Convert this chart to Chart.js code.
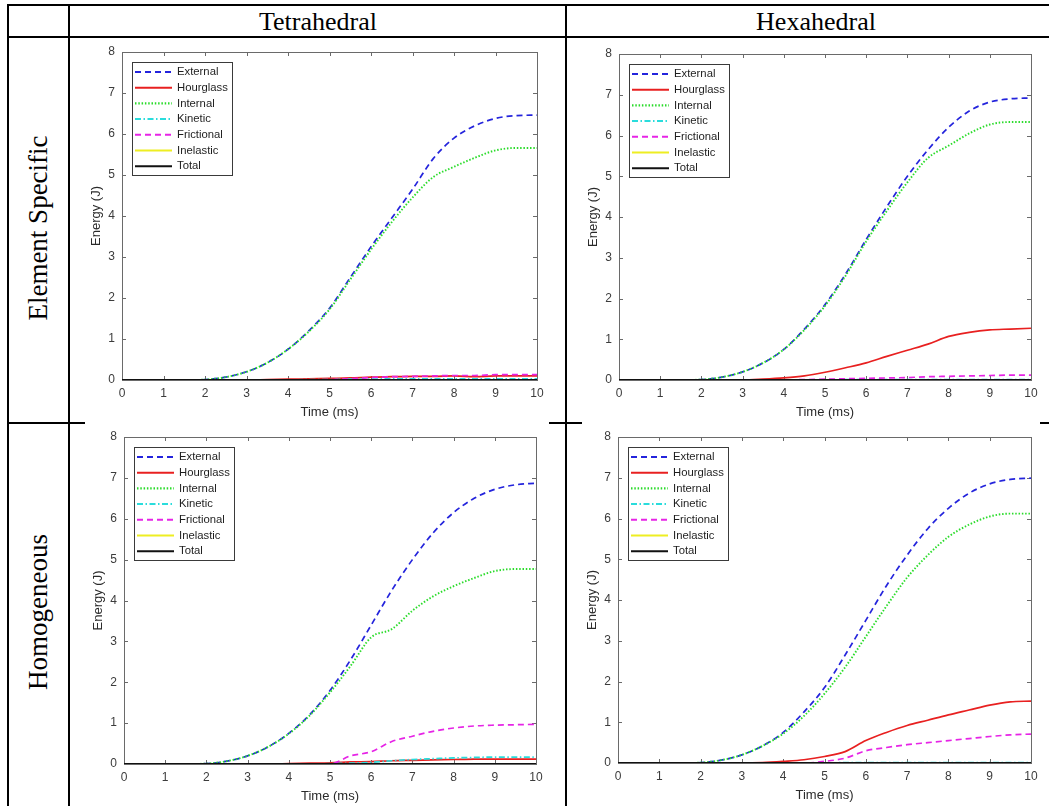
<!DOCTYPE html>
<html>
<head>
<meta charset="utf-8">
<script src="https://cdn.jsdelivr.net/npm/chart.js@4.4.1/dist/chart.umd.min.js"></script>
<style>
  body { margin: 0; background: #fff; width: 1049px; height: 806px; position: relative; overflow: hidden; }
  .ln { position: absolute; background: #000; }
  .hd { position: absolute; font-family: "Liberation Serif", "Times New Roman", serif; font-size: 26px; color: #000;
        transform: translate(-50%, -50%); white-space: nowrap; }
  .rl { position: absolute; font-family: "Liberation Serif", "Times New Roman", serif; font-size: 27px; color: #000;
        transform: translate(-50%, -50%) rotate(-90deg); white-space: nowrap; }
  canvas { position: absolute; }
</style>
</head>
<body>
<!-- table grid -->
<div class="ln" style="left:7px;top:4px;width:1042px;height:2px"></div>
<div class="ln" style="left:7px;top:36px;width:1042px;height:2px"></div>
<div class="ln" style="left:7px;top:4px;width:2px;height:802px"></div>
<div class="ln" style="left:68px;top:4px;width:2px;height:802px"></div>
<div class="ln" style="left:565px;top:4px;width:2px;height:802px"></div>
<div class="ln" style="left:7px;top:422px;width:78px;height:2px"></div>
<div class="ln" style="left:549px;top:422px;width:33px;height:2px"></div>
<div class="ln" style="left:1040px;top:422px;width:9px;height:2px"></div>

<div class="hd" style="left:318px;top:22px">Tetrahedral</div>
<div class="hd" style="left:816px;top:22px">Hexahedral</div>
<div class="rl" style="left:38px;top:228px">Element Specific</div>
<div class="rl" style="left:38px;top:612px">Homogeneous</div>

<canvas id="tetES"></canvas>
<canvas id="hexES"></canvas>
<canvas id="tetH"></canvas>
<canvas id="hexH"></canvas>

<script>
// time axis (ms) and energies (J)
const time = [0, 0.5, 1, 1.5, 2, 2.5, 3, 3.5, 4, 4.5, 5, 5.5, 6, 6.5, 7, 7.5, 8, 8.5, 9, 9.5, 10];
const zero = [0, 0, 0, 0, 0, 0, 0, 0, 0, 0, 0, 0, 0, 0, 0, 0, 0, 0, 0, 0, 0];
const seriesNames = ['External', 'Hourglass', 'Internal', 'Kinetic', 'Frictional', 'Inelastic', 'Total'];

// Tetrahedral / Element Specific
const tetES_ext  = [0, 0, 0, 0, 0.01, 0.07, 0.2, 0.42, 0.75, 1.2, 1.75, 2.5, 3.25, 3.95, 4.65, 5.4, 5.9, 6.2, 6.38, 6.45, 6.46];
const tetES_hour = [0, 0, 0, 0, 0, 0, 0, 0.01, 0.02, 0.03, 0.04, 0.05, 0.07, 0.08, 0.09, 0.09, 0.1, 0.08, 0.1, 0.1, 0.1];
const tetES_int  = [0, 0, 0, 0, 0.01, 0.07, 0.2, 0.42, 0.75, 1.18, 1.72, 2.45, 3.18, 3.85, 4.45, 4.95, 5.2, 5.42, 5.6, 5.66, 5.66];
const tetES_kin  = [0, 0, 0, 0, 0, 0, 0, 0, 0, 0.01, 0.01, 0.02, 0.02, 0.03, 0.03, 0.03, 0.03, 0.03, 0.03, 0.03, 0.03];
const tetES_fric = [0, 0, 0, 0, 0, 0, 0, 0, 0, 0, 0.01, 0.03, 0.06, 0.08, 0.09, 0.1, 0.11, 0.11, 0.13, 0.13, 0.13];

// Hexahedral / Element Specific
const hexES_ext  = [0, 0, 0, 0, 0.01, 0.07, 0.2, 0.42, 0.75, 1.25, 1.85, 2.6, 3.45, 4.25, 5.0, 5.65, 6.2, 6.6, 6.82, 6.9, 6.92];
const hexES_hour = [0, 0, 0, 0, 0, 0, 0, 0.02, 0.05, 0.1, 0.19, 0.3, 0.42, 0.58, 0.73, 0.88, 1.07, 1.17, 1.23, 1.25, 1.27];
const hexES_int  = [0, 0, 0, 0, 0.01, 0.07, 0.2, 0.42, 0.75, 1.23, 1.82, 2.56, 3.4, 4.15, 4.85, 5.45, 5.75, 6.05, 6.27, 6.33, 6.33];
const hexES_kin  = [0, 0, 0, 0, 0, 0, 0, 0, 0, 0, 0, 0.01, 0.01, 0.01, 0.01, 0.01, 0.01, 0.01, 0.01, 0.01, 0.01];
const hexES_fric = [0, 0, 0, 0, 0, 0, 0, 0, 0, 0.01, 0.02, 0.03, 0.04, 0.05, 0.06, 0.08, 0.09, 0.1, 0.11, 0.12, 0.12];

// Tetrahedral / Homogeneous
const tetH_ext  = [0, 0, 0, 0, 0.01, 0.07, 0.2, 0.42, 0.75, 1.2, 1.8, 2.55, 3.4, 4.25, 5.0, 5.65, 6.15, 6.5, 6.72, 6.83, 6.87];
const tetH_hour = [0, 0, 0, 0, 0, 0, 0, 0, 0.01, 0.02, 0.03, 0.05, 0.06, 0.08, 0.09, 0.1, 0.11, 0.12, 0.12, 0.12, 0.12];
const tetH_int  = [0, 0, 0, 0, 0.01, 0.07, 0.2, 0.42, 0.74, 1.18, 1.75, 2.4, 3.1, 3.3, 3.75, 4.1, 4.35, 4.55, 4.72, 4.77, 4.77];
const tetH_kin  = [0, 0, 0, 0, 0, 0, 0, 0, 0, 0, 0.01, 0.02, 0.04, 0.08, 0.11, 0.13, 0.15, 0.16, 0.17, 0.17, 0.17];
const tetH_fric = [0, 0, 0, 0, 0, 0, 0, 0, 0, 0, 0, 0.2, 0.3, 0.55, 0.68, 0.8, 0.88, 0.93, 0.95, 0.96, 0.97];

// Hexahedral / Homogeneous
const hexH_ext  = [0, 0, 0, 0, 0.01, 0.07, 0.2, 0.42, 0.75, 1.25, 1.85, 2.65, 3.5, 4.35, 5.1, 5.75, 6.25, 6.62, 6.85, 6.96, 6.99];
const hexH_hour = [0, 0, 0, 0, 0, 0, 0, 0.01, 0.04, 0.08, 0.16, 0.28, 0.55, 0.75, 0.92, 1.05, 1.18, 1.3, 1.42, 1.5, 1.52];
const hexH_int  = [0, 0, 0, 0, 0.01, 0.07, 0.2, 0.42, 0.72, 1.15, 1.7, 2.35, 3.1, 3.85, 4.55, 5.1, 5.55, 5.85, 6.05, 6.12, 6.12];
const hexH_kin  = [0, 0, 0, 0, 0, 0, 0, 0, 0, 0, 0, 0.01, 0.01, 0.01, 0.01, 0.01, 0.01, 0.01, 0.01, 0.01, 0.01];
const hexH_fric = [0, 0, 0, 0, 0, 0, 0, 0, 0, 0, 0.04, 0.12, 0.3, 0.38, 0.45, 0.5, 0.55, 0.6, 0.65, 0.69, 0.71];

const xTicks = [0, 1, 2, 3, 4, 5, 6, 7, 8, 9, 10];
const yTicks = [0, 1, 2, 3, 4, 5, 6, 7, 8];

// line styles, matlab-ish
const styles = [
  { color: '#2424dc', dash: [6, 4], width: 1.7 },        // External --
  { color: '#e82020', dash: [], width: 1.7 },            // Hourglass -
  { color: '#2bdc2b', dash: [1.5, 1.8], width: 1.9 },    // Internal :
  { color: '#2adcdc', dash: [6, 2.5, 1.5, 2.5], width: 1.7 }, // Kinetic -.
  { color: '#e624e6', dash: [6, 4], width: 1.7 },        // Frictional --
  { color: '#eeee22', dash: [], width: 1.7 },            // Inelastic
  { color: '#111111', dash: [], width: 1.8 }             // Total
];

const SANS = '"Liberation Sans", Arial, Helvetica, sans-serif';

// axes box + inward ticks like matlab
const axesBox = {
  id: 'axesBox',
  beforeDatasetsDraw(chart) {
    const { ctx, chartArea: a, scales: { x, y } } = chart;
    ctx.save();
    ctx.strokeStyle = '#6a6a6a';
    ctx.lineWidth = 1;
    ctx.strokeRect(Math.round(a.left) + 0.5, Math.round(a.top) + 0.5, Math.round(a.width), Math.round(a.height));
    ctx.beginPath();
    x.ticks.forEach(t => {
      const px = Math.round(x.getPixelForValue(t.value)) + 0.5;
      ctx.moveTo(px, a.bottom); ctx.lineTo(px, a.bottom - 4);
      ctx.moveTo(px, a.top); ctx.lineTo(px, a.top + 4);
    });
    y.ticks.forEach(t => {
      const py = Math.round(y.getPixelForValue(t.value)) + 0.5;
      ctx.moveTo(a.left, py); ctx.lineTo(a.left + 4, py);
      ctx.moveTo(a.right, py); ctx.lineTo(a.right - 4, py);
    });
    ctx.stroke();
    ctx.restore();
  }
};

// legend box inside the axes, top-left
const legendBox = {
  id: 'legendBox',
  afterDraw(chart) {
    const { ctx, chartArea: a } = chart;
    const x0 = Math.round(a.left) + 10, y0 = Math.round(a.top) + 10, w = 100, h = 113;
    ctx.save();
    ctx.fillStyle = '#fff';
    ctx.fillRect(x0, y0, w, h);
    ctx.strokeStyle = '#3a3a3a';
    ctx.lineWidth = 1;
    ctx.strokeRect(x0 + 0.5, y0 + 0.5, w, h);
    ctx.font = '11.3px ' + SANS;
    ctx.textBaseline = 'middle';
    chart.data.datasets.forEach((ds, i) => {
      const yy = y0 + 10 + i * 15.7;
      ctx.beginPath();
      ctx.setLineDash(ds.borderDash);
      ctx.strokeStyle = ds.borderColor;
      ctx.lineWidth = ds.borderWidth + 0.3;
      ctx.moveTo(x0 + 3, yy);
      ctx.lineTo(x0 + 40, yy);
      ctx.stroke();
      ctx.setLineDash([]);
      ctx.fillStyle = '#1e1e1e';
      ctx.fillText(ds.label, x0 + 45, yy);
    });
    ctx.restore();
  }
};

// plot-area boxes in page pixels
const panels = [
  { id: 'tetES', l: 122, t: 52, r: 537, b: 380, data: [tetES_ext, tetES_hour, tetES_int, tetES_kin, tetES_fric, zero, zero] },
  { id: 'hexES', l: 619, t: 54, r: 1031, b: 380, data: [hexES_ext, hexES_hour, hexES_int, hexES_kin, hexES_fric, zero, zero] },
  { id: 'tetH',  l: 124, t: 437, r: 536, b: 764, data: [tetH_ext, tetH_hour, tetH_int, tetH_kin, tetH_fric, zero, zero] },
  { id: 'hexH',  l: 618, t: 437, r: 1031, b: 763, data: [hexH_ext, hexH_hour, hexH_int, hexH_kin, hexH_fric, zero, zero] }
];

panels.forEach(p => {
  const cv = document.getElementById(p.id);
  const left = p.l - 33, top = p.t - 10, right = p.r + 20, bottom = p.b + 40;
  cv.style.left = left + 'px';
  cv.style.top = top + 'px';
  cv.width = right - left;
  cv.height = bottom - top;
  const yW = p.l - left, xH = bottom - p.b;

  new Chart(cv, {
    type: 'line',
    data: {
      datasets: seriesNames.map((name, i) => ({
        label: name,
        data: time.map((t, k) => ({ x: t, y: p.data[i][k] })),
        borderColor: styles[i].color,
        borderDash: styles[i].dash,
        borderWidth: styles[i].width,
        pointRadius: 0,
        fill: false,
        cubicInterpolationMode: 'monotone',
        order: -i
      }))
    },
    options: {
      responsive: false,
      animation: false,
      layout: { padding: { top: 10, right: 20, left: 0, bottom: 0 } },
      plugins: { legend: { display: false }, tooltip: { enabled: false } },
      scales: {
        x: {
          type: 'linear', min: 0, max: 10,
          afterBuildTicks: s => { s.ticks = xTicks.map(v => ({ value: v })); },
          afterFit: s => { s.height = xH; s.paddingLeft = 0; s.paddingRight = 0; },
          grid: { display: false, drawTicks: false },
          border: { display: false },
          ticks: { color: '#3c3c3c', padding: 6, maxRotation: 0, font: { family: SANS, size: 12 } },
          title: { display: true, text: 'Time (ms)', color: '#2a2a2a', padding: 0, font: { family: SANS, size: 13 } }
        },
        y: {
          type: 'linear', min: 0, max: 8,
          afterBuildTicks: s => { s.ticks = yTicks.map(v => ({ value: v })); },
          afterFit: s => { s.width = yW; s.paddingTop = 0; s.paddingBottom = 0; },
          grid: { display: false, drawTicks: false },
          border: { display: false },
          ticks: { color: '#3c3c3c', padding: 7, font: { family: SANS, size: 12 } },
          title: { display: true, text: 'Energy (J)', color: '#2a2a2a', padding: 0, font: { family: SANS, size: 13 } }
        }
      }
    },
    plugins: [axesBox, legendBox]
  });
});
</script>
</body>
</html>
